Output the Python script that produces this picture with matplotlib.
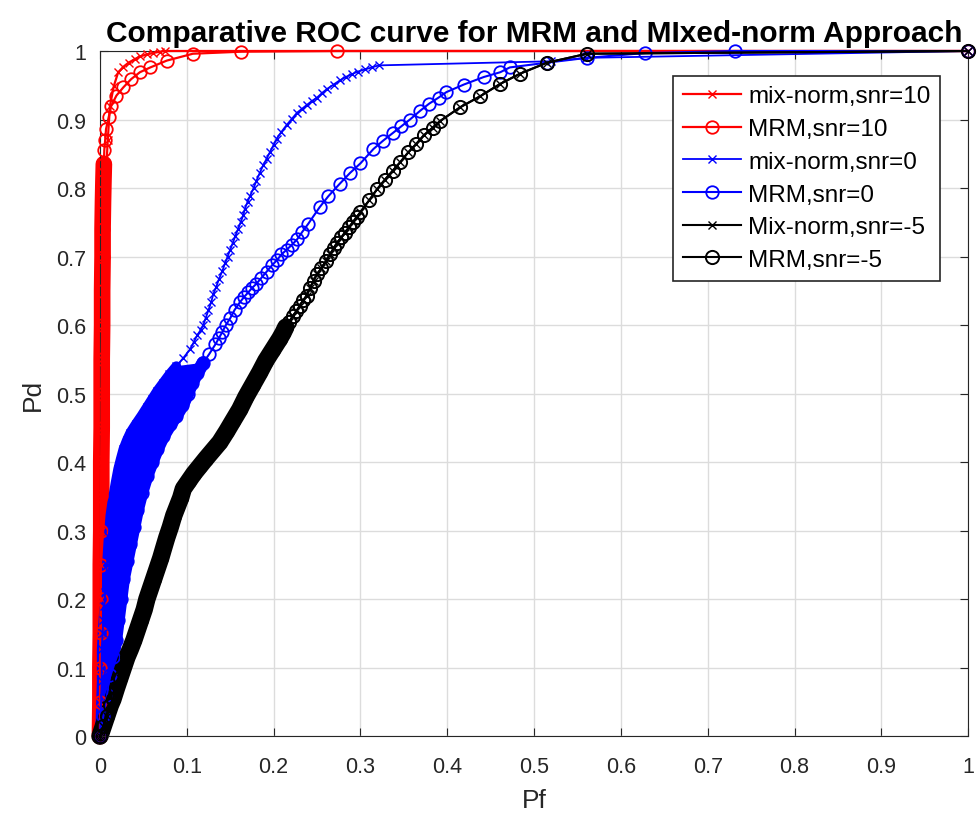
import numpy as np
import matplotlib
matplotlib.use("Agg")
import matplotlib.pyplot as plt

plt.rcParams['font.family'] = ['Liberation Sans', 'DejaVu Sans']

# ROC points (Pf, Pd)
red_mix_pf = [0, 0.0, 0.0003, 0.0005, 0.0008, 0.001, 0.001, 0.0012, 0.0015, 0.0018, 0.002, 0.0025,
              0.003, 0.004, 0.006, 0.009, 0.0115, 0.016, 0.021, 0.027, 0.033, 0.040, 0.046, 0.054,
              0.061, 0.069, 0.075, 1.0]
red_mix_pd = [0, 0.05, 0.1, 0.15, 0.2, 0.25, 0.3, 0.35, 0.4, 0.45, 0.5, 0.55,
              0.6, 0.7, 0.8, 0.87, 0.92, 0.949, 0.969, 0.977, 0.983, 0.988, 0.992, 0.995,
              0.997, 0.999, 1.0, 1.0]

red_mrm_pf = [0, 0.0005, 0.0005, 0.001, 0.001, 0.001, 0.0015, 0.0015, 0.0015, 0.002, 0.002, 0.002,
              0.0025, 0.0025, 0.003, 0.003, 0.0035, 0.004, 0.0045, 0.005, 0.006, 0.007, 0.010, 0.013,
              0.019, 0.027, 0.036, 0.046, 0.058, 0.077, 0.107, 0.163, 0.273, 1.0]
red_mrm_pd = [0, 0.05, 0.1, 0.15, 0.2, 0.25, 0.3, 0.35, 0.4, 0.45, 0.5, 0.55,
              0.6, 0.65, 0.7, 0.74, 0.78, 0.81, 0.835, 0.855, 0.87, 0.886, 0.903, 0.92,
              0.935, 0.947, 0.959, 0.969, 0.976, 0.986, 0.996, 0.999, 1.0, 1.0]

blue_mix_pf = [0, 0.001, 0.002, 0.002, 0.003, 0.004, 0.005, 0.006, 0.007, 0.008, 0.010, 0.012,
               0.014, 0.016, 0.018, 0.021, 0.024, 0.027, 0.031, 0.035, 0.041, 0.048, 0.054, 0.060,
               0.066, 0.073, 0.080, 0.088, 0.096, 0.104, 0.108, 0.112, 0.116, 0.119, 0.122, 0.125,
               0.128, 0.1305, 0.134, 0.137, 0.141, 0.144, 0.147, 0.150, 0.153, 0.156, 0.159, 0.162,
               0.165, 0.167, 0.170, 0.173, 0.177, 0.180, 0.184, 0.188, 0.192, 0.196, 0.200, 0.2035,
               0.209, 0.215, 0.221, 0.227, 0.233, 0.238, 0.244, 0.250, 0.256, 0.262, 0.269, 0.276,
               0.283, 0.290, 0.297, 0.305, 0.313, 0.321, 0.52, 0.56, 1.0]
blue_mix_pd = [0, 0.04, 0.08, 0.127, 0.15, 0.17, 0.19, 0.21, 0.23, 0.25, 0.29, 0.322,
               0.34, 0.355, 0.37, 0.39, 0.405, 0.419, 0.432, 0.443, 0.455, 0.468, 0.48, 0.492,
               0.504, 0.516, 0.528, 0.54, 0.552, 0.565, 0.575, 0.585, 0.593, 0.60, 0.611, 0.622,
               0.633, 0.645, 0.656, 0.667, 0.679, 0.69, 0.70, 0.71, 0.72, 0.73, 0.74, 0.75,
               0.76, 0.77, 0.78, 0.789, 0.80, 0.81, 0.822, 0.833, 0.843, 0.853, 0.863, 0.872,
               0.882, 0.892, 0.901, 0.91, 0.916, 0.921, 0.927, 0.932, 0.939, 0.945, 0.951, 0.957,
               0.962, 0.966, 0.970, 0.973, 0.976, 0.979, 0.985, 0.99, 1.0]

blue_mrm_pf = [0, 0.004, 0.008, 0.012, 0.015, 0.018, 0.021, 0.024, 0.027, 0.031, 0.035, 0.039,
               0.043, 0.048, 0.054, 0.060, 0.066, 0.073, 0.081, 0.088, 0.095, 0.101, 0.106, 0.112,
               0.119, 0.126, 0.133, 0.137, 0.141, 0.145, 0.150, 0.155, 0.161, 0.166, 0.171, 0.175,
               0.180, 0.186, 0.192, 0.198, 0.204, 0.209, 0.215, 0.221, 0.227, 0.233, 0.240, 0.253,
               0.263, 0.276, 0.288, 0.300, 0.315, 0.326, 0.338, 0.347, 0.357, 0.369, 0.379, 0.390,
               0.399, 0.419, 0.442, 0.461, 0.472, 0.515, 0.561, 0.628, 0.731, 1.0]
blue_mrm_pd = [0, 0.03, 0.06, 0.09, 0.115, 0.14, 0.17, 0.2, 0.23, 0.255, 0.28, 0.305,
               0.33, 0.355, 0.38, 0.40, 0.419, 0.438, 0.455, 0.468, 0.483, 0.5, 0.516, 0.53,
               0.545, 0.558, 0.572, 0.581, 0.59, 0.60, 0.61, 0.622, 0.633, 0.641, 0.648, 0.654,
               0.66, 0.669, 0.678, 0.687, 0.695, 0.703, 0.71, 0.717, 0.725, 0.736, 0.748, 0.772,
               0.788, 0.806, 0.822, 0.836, 0.857, 0.869, 0.881, 0.89, 0.900, 0.913, 0.923, 0.932,
               0.940, 0.951, 0.962, 0.969, 0.976, 0.983, 0.99, 0.997, 1.0, 1.0]

black_pf = [0, 0.004, 0.008, 0.012, 0.015, 0.019, 0.023, 0.027, 0.031, 0.035, 0.039, 0.043,
            0.047, 0.051, 0.054, 0.058, 0.062, 0.066, 0.070, 0.073, 0.077, 0.081, 0.085, 0.089,
            0.093, 0.096, 0.102, 0.108, 0.115, 0.122, 0.130, 0.138, 0.146, 0.153, 0.161, 0.168,
            0.176, 0.184, 0.191, 0.199, 0.203, 0.207, 0.211, 0.214, 0.218, 0.222, 0.226, 0.230,
            0.234, 0.238, 0.242, 0.246, 0.250, 0.255, 0.260, 0.265, 0.269, 0.273, 0.278, 0.282,
            0.287, 0.291, 0.296, 0.300, 0.310, 0.319, 0.328, 0.337, 0.346, 0.355, 0.364, 0.373,
            0.383, 0.392, 0.415, 0.438, 0.461, 0.484, 0.515, 0.561, 1.0]
black_pd = [0, 0.015, 0.03, 0.045, 0.054, 0.07, 0.085, 0.1, 0.115, 0.127, 0.14, 0.155,
            0.17, 0.185, 0.2, 0.215, 0.23, 0.245, 0.26, 0.273, 0.29, 0.305, 0.322, 0.335,
            0.348, 0.361, 0.372, 0.383, 0.394, 0.405, 0.417, 0.429, 0.445, 0.46, 0.477, 0.495,
            0.513, 0.531, 0.548, 0.564, 0.572, 0.580, 0.589, 0.597, 0.605, 0.613, 0.62, 0.628,
            0.636, 0.643, 0.654, 0.665, 0.674, 0.683, 0.693, 0.703, 0.712, 0.72, 0.728, 0.735,
            0.743, 0.75, 0.758, 0.765, 0.782, 0.798, 0.812, 0.825, 0.838, 0.852, 0.864, 0.877,
            0.888, 0.898, 0.918, 0.934, 0.952, 0.967, 0.983, 0.996, 1.0]

labels = ['mix-norm,snr=10', 'MRM,snr=10', 'mix-norm,snr=0', 'MRM,snr=0',
          'Mix-norm,snr=-5', 'MRM,snr=-5']

fig = plt.figure(figsize=(9.8, 8.2), dpi=100)
ax = fig.add_axes([0.102, 0.101, 0.886, 0.8356])


def dense_part(pf, pd, upto):
    pf = np.asarray(pf)
    pd = np.asarray(pd)
    keep = pd <= upto
    return pf[keep], pd[keep]


def dense_band(pf, pd, upto, color, width):
    # markers pile up into a solid band on the steep part of the curve
    x, y = dense_part(pf, pd, upto)
    ax.plot(x, y, color=color, lw=width, solid_capstyle='round',
            solid_joinstyle='round', clip_on=False, zorder=2)


dense_band(red_mrm_pf, red_mrm_pd, 0.84, 'red', 12)

# the two snr=0 curves overlap into one solid blue region at low Pf
bx1, by1 = dense_part(blue_mix_pf, blue_mix_pd, 0.55)
bx2, by2 = dense_part(blue_mrm_pf, blue_mrm_pd, 0.55)
ax.fill(np.concatenate([bx1, bx2[::-1]]), np.concatenate([by1, by2[::-1]]),
        color='blue', lw=0, zorder=2, clip_on=False)
dense_band(blue_mix_pf, blue_mix_pd, 0.55, 'blue', 7)
dense_band(blue_mrm_pf, blue_mrm_pd, 0.55, 'blue', 9.5)
dense_band(black_pf, black_pd, 0.60, 'black', 12.5)

mk = dict(clip_on=False, zorder=3)
ax.plot(red_mix_pf, red_mix_pd, color='red', marker='x', ms=6, lw=1.6, label=labels[0], **mk)
ax.plot(red_mrm_pf, red_mrm_pd, color='red', marker='o', ms=9, mfc='none', mew=1.3, lw=1.6,
        label=labels[1], **mk)
ax.plot(blue_mix_pf, blue_mix_pd, color='blue', marker='x', ms=6, lw=1.3, label=labels[2], **mk)
ax.plot(blue_mrm_pf, blue_mrm_pd, color='blue', marker='o', ms=9, mfc='none', mew=1.3, lw=1.5,
        label=labels[3], **mk)
ax.plot(black_pf, black_pd, color='black', marker='x', ms=6, lw=1.5, label=labels[4], **mk)
ax.plot(black_pf, black_pd, color='black', marker='o', ms=9.5, mfc='none', mew=1.4, lw=1.5,
        label=labels[5], **mk)

ax.set_xlim(0, 1)
ax.set_ylim(0, 1)
ticks = np.arange(0, 1.01, 0.1)
ticklabels = ['0', '0.1', '0.2', '0.3', '0.4', '0.5', '0.6', '0.7', '0.8', '0.9', '1']
ax.set_xticks(ticks)
ax.set_xticklabels(ticklabels)
ax.set_yticks(ticks)
ax.set_yticklabels(ticklabels)
ax.tick_params(direction='in', top=True, right=True, labelsize=15.5, colors='#262626', length=6)
ax.tick_params(axis='x', pad=14)
ax.tick_params(axis='y', pad=10)
ax.grid(True, color='#dcdcdc', lw=1)
ax.set_axisbelow(True)
for s in ax.spines.values():
    s.set_color('#262626')

ax.set_xlabel('Pf', fontsize=19, color='#262626', labelpad=8)
ax.set_ylabel('Pd', fontsize=19, color='#262626', labelpad=8)
ax.set_title('Comparative ROC curve for MRM and MIxed-norm Approach', fontsize=21.5,
             fontweight='bold', pad=7)

leg = ax.legend(loc='upper right', bbox_to_anchor=(0.968, 0.964), borderaxespad=0,
                fontsize=17.5, fancybox=False, edgecolor='#262626', framealpha=1,
                handlelength=2.4, labelspacing=0.44, handletextpad=0.3, borderpad=0.4)
leg.get_frame().set_linewidth(1.2)
leg.set_zorder(5)

fig.savefig('out.png', dpi=100)
